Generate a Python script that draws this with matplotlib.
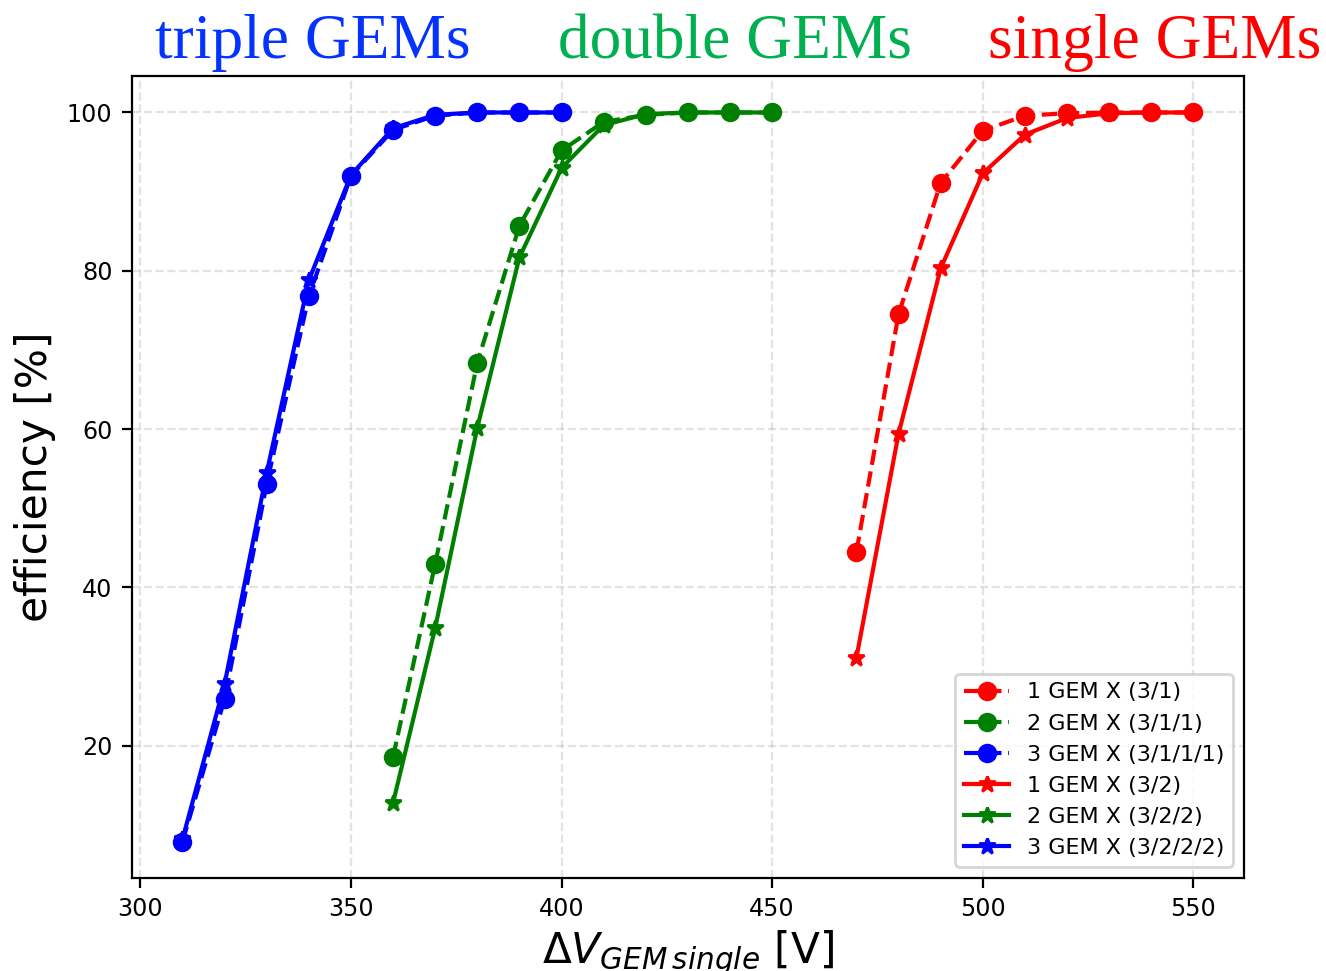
import matplotlib
matplotlib.use("Agg")
import matplotlib.pyplot as plt

# scan voltages per GEM [V]
v_single = [470, 480, 490, 500, 510, 520, 530, 540, 550]
v_double = [360, 370, 380, 390, 400, 410, 420, 430, 440, 450]
v_triple = [310, 320, 330, 340, 350, 360, 370, 380, 390, 400]

# efficiency [%], field configuration (3/1...)
eff_single_31 = [44.5, 74.5, 91.1, 97.7, 99.6, 99.9, 100.0, 100.0, 100.0]
eff_double_311 = [18.6, 43.0, 68.4, 85.7, 95.2, 98.8, 99.7, 100.0, 100.0, 100.0]
eff_triple_3111 = [7.9, 25.9, 53.1, 76.8, 92.0, 97.8, 99.6, 100.0, 100.0, 100.0]

# efficiency [%], field configuration (3/2...)
eff_single_32 = [31.1, 59.4, 80.3, 92.3, 97.2, 99.3, 99.9, 100.0, 100.0]
eff_double_322 = [12.8, 34.9, 60.2, 81.7, 93.0, 98.4, 99.8, 100.0, 100.0, 100.0]
eff_triple_3222 = [8.2, 27.8, 54.5, 78.8, 92.1, 98.0, 99.7, 100.0, 100.0, 100.0]

fig = plt.figure(figsize=(6.63, 4.855), dpi=200)
ax = fig.add_axes([0.0995, 0.0958, 0.8386, 0.8259])

ax.plot(v_single, eff_single_31, "o--", color="red", label="1 GEM X (3/1)")
ax.plot(v_double, eff_double_311, "o--", color="green", label="2 GEM X (3/1/1)")
ax.plot(v_triple, eff_triple_3111, "o--", color="blue", label="3 GEM X (3/1/1/1)")
ax.plot(v_single, eff_single_32, "*-", color="red", label="1 GEM X (3/2)")
ax.plot(v_double, eff_double_322, "*-", color="green", label="2 GEM X (3/2/2)")
ax.plot(v_triple, eff_triple_3222, "*-", color="blue", label="3 GEM X (3/2/2/2)")

ax.grid(True, linestyle="--", alpha=0.35)
ax.tick_params(labelsize=8.6)
ax.set_xlabel(r"$\Delta V_{GEM\,single}$ [V]", fontsize=15.2, labelpad=2.5)
ax.set_ylabel("efficiency [%]", fontsize=15.2)
ax.legend(loc="lower right", fontsize=8.0)

serif = ["Liberation Serif", "DejaVu Serif"]
fig.text(0.2355, 0.940, "triple GEMs", color="#0433ff", fontsize=22.8,
         family=serif, ha="center", va="baseline")
fig.text(0.554, 0.940, "double GEMs", color="#00b050", fontsize=22.8,
         family=serif, ha="center", va="baseline")
fig.text(0.871, 0.940, "single GEMs", color="#ff0000", fontsize=22.8,
         family=serif, ha="center", va="baseline")

fig.savefig("out.png", dpi=200)
